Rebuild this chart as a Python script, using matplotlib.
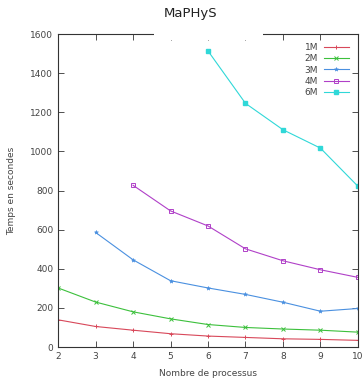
import matplotlib.pyplot as plt
import matplotlib.patches as mpatches

# Données
procs = [2, 3, 4, 5, 6, 7, 8, 9, 10]
t_1m = [139, 105, 86, 68, 56, 49, 42, 39, 34]
t_2m = [302, 230, 180, 144, 115, 100, 92, 86, 76]
procs_3m = [3, 4, 5, 6, 7, 8, 9, 10]
t_3m = [586, 446, 339, 302, 269, 229, 183, 197]
procs_4m = [4, 5, 6, 7, 8, 9, 10]
t_4m = [827, 696, 619, 502, 441, 395, 356]
procs_6m = [6, 7, 8, 9, 10]
t_6m = [1514, 1246, 1111, 1017, 822]

fig = plt.figure(figsize=(3.63, 3.79), dpi=100)
ax = fig.add_axes([0.160, 0.0844, 0.826, 0.8256])

ax.plot(procs, t_1m, color='#d8485a', lw=0.8, marker='+', ms=3.5, mew=0.7, label='1M')
ax.plot(procs, t_2m, color='#3cc03c', lw=0.8, marker='x', ms=2.5, mew=0.7, label='2M')
ax.plot(procs_3m, t_3m, color='#4a90e0', lw=0.8, marker='*', ms=3, mew=0.4, label='3M')
ax.plot(procs_4m, t_4m, color='#b040c8', lw=0.8, marker='s', ms=3, mfc='none', mew=0.7, label='4M')
ax.plot(procs_6m, t_6m, color='#30d8d8', lw=0.8, marker='s', ms=3, label='6M')

ax.set_xlim(2, 10)
ax.set_ylim(0, 1600)
ax.set_xticks(range(2, 11))
ax.set_yticks(range(0, 1601, 200))
ax.tick_params(direction='in', top=True, right=True, labelsize=6.5, labelcolor='#444444',
               length=4, width=0.6, color='#333333')
for s in ax.spines.values():
    s.set_linewidth(0.8)
    s.set_color('#333333')

ax.set_xlabel('Nombre de processus', fontsize=6.5, color='#444444', labelpad=6)
ax.set_ylabel('Temps en secondes', fontsize=6.5, color='#444444', labelpad=10)
fig.text(0.524, 0.965, 'MaPHyS', ha='center', va='center', fontsize=9.5, color='#222222')

leg = ax.legend(loc='upper right', frameon=False, markerfirst=False, fontsize=6.5,
                handlelength=2.8, labelspacing=0.25, borderaxespad=0.6, handletextpad=0.6)
for t in leg.get_texts():
    t.set_color('#444444')
    t.set_ha('right')

# bande blanche qui masque le haut du cadre (comme sur l'image d'origine)
fig.patches.append(mpatches.Rectangle((154 / 363, 1 - 40 / 379), 109 / 363, 12 / 379,
                                      transform=fig.transFigure, facecolor='white',
                                      edgecolor='none', zorder=10))

fig.savefig('out.png', dpi=100)
